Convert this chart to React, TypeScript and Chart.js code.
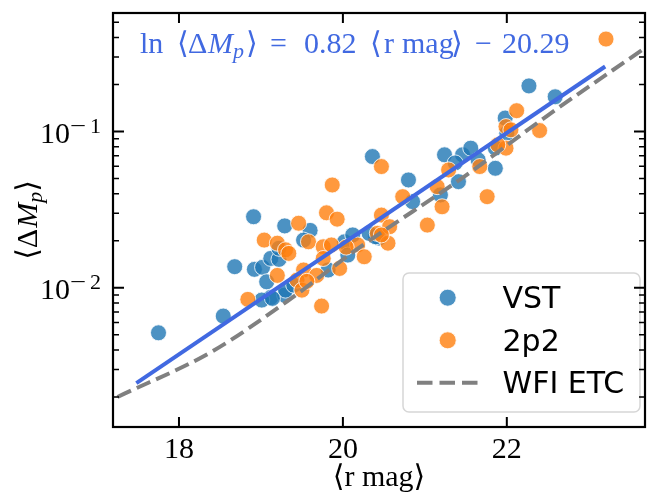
import React, { useEffect, useRef } from 'react';
import { Chart, registerables } from 'chart.js';

Chart.register(...registerables);

// ---- data ----
const VST_R = [17.75, 18.54, 18.68, 18.92, 19.02, 19.12, 19.22, 19.07, 19.12, 19.01, 19.29, 18.91, 19.29, 19.60, 19.52, 19.22, 20.02, 20.12, 20.06, 19.82, 19.30, 20.44, 19.40, 19.14, 20.36, 20.80, 20.85, 21.19, 21.24, 21.46, 21.56, 21.65, 21.41, 21.86, 21.86, 21.98, 22.00, 22.27, 22.59, 20.40, 20.32, 21.37];
const VST_DM = [0.00515, 0.00659, 0.01365, 0.01312, 0.01352, 0.01542, 0.0152, 0.01092, 0.00867, 0.00834, 0.00897, 0.0285, 0.0249, 0.0233, 0.0202, 0.0179, 0.0197, 0.0218, 0.0162, 0.0130, 0.00966, 0.0208, 0.0104, 0.00855, 0.0692, 0.0490, 0.0356, 0.0393, 0.0710, 0.0710, 0.0783, 0.0659, 0.0478, 0.0582, 0.0783, 0.122, 0.0977, 0.196, 0.167, 0.0212, 0.0223, 0.0630];

const P2_R = [18.84, 19.04, 19.20, 19.30, 19.20, 19.46, 19.34, 19.58, 19.76, 19.86, 20.18, 20.26, 19.96, 19.52, 19.68, 19.44, 19.50, 19.74, 20.42, 19.87, 19.80, 19.93, 20.47, 20.73, 21.15, 21.21, 20.47, 20.57, 21.03, 20.55, 21.29, 21.67, 21.76, 22.12, 21.99, 22.05, 22.40, 21.99, 21.89, 23.21, 20.04, 19.56, 19.76, 20.47];
const P2_DM = [0.00843, 0.0202, 0.0193, 0.0175, 0.0120, 0.0259, 0.0166, 0.0197, 0.0183, 0.0188, 0.0188, 0.0158, 0.0133, 0.0130, 0.0120, 0.0112, 0.00966, 0.00764, 0.0223, 0.0455, 0.0302, 0.0275, 0.0597, 0.0383, 0.0444, 0.0330, 0.0292, 0.0246, 0.0252, 0.0193, 0.0568, 0.0597, 0.0383, 0.136, 0.1076, 0.1026, 0.1015, 0.0783, 0.0822, 0.391, 0.0182, 0.0110, 0.0154, 0.0218];

const FIT_R = [17.48, 23.2];
const FIT_DM = [0.00245, 0.261];

const ETC_R = [17.25, 18.4, 19.32, 20.16, 21.48, 22.48, 23.69];
const ETC_DM = [0.0020, 0.0039, 0.0082, 0.01746, 0.0515, 0.1248, 0.344];

const X_MIN = 17.195;
const X_MAX = 23.686;
const Y_MIN = 0.001285;
const Y_MAX = 0.574;

const X_TICKS = [18, 20, 22];
const Y_MAJOR = [0.01, 0.1];
const Y_MAJOR_EXP = ['2', '1'];
const Y_MINOR = [0.002, 0.003, 0.004, 0.005, 0.006, 0.007, 0.008, 0.009, 0.02, 0.03, 0.04, 0.05, 0.06, 0.07, 0.08, 0.09, 0.2, 0.3, 0.4, 0.5];

const LEGEND_LABELS = ['VST', '2p2', 'WFI ETC'];
const X_TITLE = '\u27E8r mag\u27E9';

const BLUE = 'rgba(31,119,180,0.8)';
const ORANGE = 'rgba(255,127,14,0.8)';
const EDGE = 'rgba(255,255,255,0.8)';
const FIT_COLOR = '#4169E1';
const ETC_COLOR = '#808080';

const SERIF = "'Liberation Serif', 'DejaVu Serif', 'DejaVu Sans', serif";
const SANS = "'DejaVu Sans', sans-serif";

// equation pieces with their left positions (math-style spacing)
type Piece = { text: string; x: number; font: string; dy?: number };
const F30 = `30px ${SERIF}`;
const I30 = `italic 30px ${SERIF}`;
const I22 = `italic 22px ${SERIF}`;
const EQUATION: Piece[] = [
  { text: 'ln', x: 140, font: F30 },
  { text: '\u27E8', x: 177, font: F30 },
  { text: '\u0394', x: 188, font: F30 },
  { text: 'M', x: 208, font: I30 },
  { text: 'p', x: 233, font: I22, dy: 5 },
  { text: '\u27E9', x: 246, font: F30 },
  { text: '=', x: 270, font: F30 },
  { text: '0.82', x: 304, font: F30 },
  { text: '\u27E8', x: 370, font: F30 },
  { text: 'r', x: 384, font: F30 },
  { text: 'mag', x: 402, font: F30 },
  { text: '\u27E9', x: 451, font: F30 },
  { text: '\u2212', x: 475, font: F30 },
  { text: '20.29', x: 502, font: F30 },
];

const decorPlugin = {
  id: 'decor',
  afterDatasetsDraw(chart: any) {
    const ctx: CanvasRenderingContext2D = chart.ctx;
    const xs = chart.scales.x;
    const ys = chart.scales.y;
    const { left, right, top, bottom } = chart.chartArea;
    ctx.save();
    ctx.textBaseline = 'alphabetic';
    ctx.textAlign = 'left';

    // equation
    ctx.fillStyle = FIT_COLOR;
    EQUATION.forEach((p) => {
      ctx.font = p.font;
      ctx.fillText(p.text, p.x, 53 + (p.dy || 0));
    });

    // legend
    const lx = 403, ly = 273, lw = 237, lh = 139, rad = 6;
    ctx.beginPath();
    ctx.moveTo(lx + rad, ly);
    ctx.arcTo(lx + lw, ly, lx + lw, ly + lh, rad);
    ctx.arcTo(lx + lw, ly + lh, lx, ly + lh, rad);
    ctx.arcTo(lx, ly + lh, lx, ly, rad);
    ctx.arcTo(lx, ly, lx + lw, ly, rad);
    ctx.closePath();
    ctx.fillStyle = 'rgba(255,255,255,0.8)';
    ctx.fill();
    ctx.strokeStyle = 'rgba(204,204,204,0.8)';
    ctx.lineWidth = 1.5;
    ctx.stroke();

    const rows = [297.7, 340.3, 382.7];
    [BLUE, ORANGE].forEach((c, i) => {
      ctx.beginPath();
      ctx.arc(447.7, rows[i], 8.5, 0, Math.PI * 2);
      ctx.fillStyle = c;
      ctx.fill();
      ctx.strokeStyle = EDGE;
      ctx.lineWidth = 1;
      ctx.stroke();
    });
    ctx.beginPath();
    ctx.setLineDash([15.5, 7]);
    ctx.moveTo(417, rows[2]);
    ctx.lineTo(478.5, rows[2]);
    ctx.strokeStyle = ETC_COLOR;
    ctx.lineWidth = 4;
    ctx.stroke();
    ctx.setLineDash([]);

    ctx.fillStyle = '#000';
    ctx.font = `30px ${SANS}`;
    LEGEND_LABELS.forEach((t, i) => ctx.fillText(t, 502.5, rows[i] + 10.6));

    // frame
    ctx.strokeStyle = '#000';
    ctx.lineWidth = 2.2;
    ctx.strokeRect(left, top, right - left, bottom - top);

    // x ticks (inward, top & bottom)
    ctx.lineWidth = 2;
    X_TICKS.forEach((v) => {
      const px = xs.getPixelForValue(v);
      ctx.beginPath();
      ctx.moveTo(px, bottom);
      ctx.lineTo(px, bottom - 10);
      ctx.moveTo(px, top);
      ctx.lineTo(px, top + 10);
      ctx.stroke();
    });
    // y ticks
    Y_MAJOR.forEach((v) => {
      const py = ys.getPixelForValue(v);
      ctx.lineWidth = 2;
      ctx.beginPath();
      ctx.moveTo(left, py);
      ctx.lineTo(left + 11, py);
      ctx.moveTo(right, py);
      ctx.lineTo(right - 11, py);
      ctx.stroke();
    });
    Y_MINOR.forEach((v) => {
      const py = ys.getPixelForValue(v);
      ctx.lineWidth = 1.5;
      ctx.beginPath();
      ctx.moveTo(left, py);
      ctx.lineTo(left + 6, py);
      ctx.moveTo(right, py);
      ctx.lineTo(right - 6, py);
      ctx.stroke();
    });

    // y tick labels: 10^{-n}
    ctx.fillStyle = '#000';
    Y_MAJOR.forEach((v, i) => {
      const py = ys.getPixelForValue(v);
      const base = py + 11;
      ctx.font = `30px ${SERIF}`;
      ctx.fillText('10', 40, base);
      ctx.font = `22px ${SERIF}`;
      ctx.save();
      ctx.translate(70, base - 10);
      ctx.scale(1.3, 1);
      ctx.fillText('\u2212', 0, 0);
      ctx.restore();
      ctx.fillText(Y_MAJOR_EXP[i], 90, base - 10);
    });

    // y title
    ctx.save();
    ctx.translate(37, (top + bottom) / 2);
    ctx.rotate(-Math.PI / 2);
    const yRuns: Piece[] = [
      { text: '\u27E8', x: 0, font: F30 },
      { text: '\u0394', x: 0, font: F30 },
      { text: 'M', x: 0, font: I30 },
      { text: 'p', x: 0, font: I22, dy: 5 },
      { text: '\u27E9', x: 0, font: F30 },
    ];
    let total = 0;
    const widths = yRuns.map((r) => {
      ctx.font = r.font;
      const w = ctx.measureText(r.text).width + (r.text === '\u0394' ? 1 : 0);
      total += w;
      return w;
    });
    let cx = -total / 2;
    yRuns.forEach((r, i) => {
      ctx.font = r.font;
      ctx.fillText(r.text, cx, r.dy || 0);
      cx += widths[i];
    });
    ctx.restore();

    ctx.restore();
  },
};

function toPts(xs: number[], ys: number[]) {
  return xs.map((x, i) => ({ x, y: ys[i] }));
}

export default function App() {
  const ref = useRef<HTMLCanvasElement>(null);
  useEffect(() => {
    if (!ref.current) return;
    const chart = new Chart(ref.current, {
      type: 'scatter',
      data: {
        datasets: [
          {
            type: 'line',
            label: 'fit',
            data: toPts(FIT_R, FIT_DM),
            borderColor: FIT_COLOR,
            borderWidth: 4,
            pointRadius: 0,
            showLine: true,
            order: 0,
          } as any,
          {
            type: 'line',
            label: 'WFI ETC',
            data: toPts(ETC_R, ETC_DM),
            borderColor: ETC_COLOR,
            borderWidth: 4,
            borderDash: [14.8, 6.4],
            pointRadius: 0,
            showLine: true,
            cubicInterpolationMode: 'monotone',
            order: 1,
          } as any,
          {
            label: '2p2',
            data: toPts(P2_R, P2_DM),
            backgroundColor: ORANGE,
            borderColor: EDGE,
            borderWidth: 1,
            pointRadius: 8,
            order: 2,
          },
          {
            label: 'VST',
            data: toPts(VST_R, VST_DM),
            backgroundColor: BLUE,
            borderColor: EDGE,
            borderWidth: 1,
            pointRadius: 8,
            order: 3,
          },
        ],
      },
      options: {
        animation: false,
        responsive: false,
        devicePixelRatio: 1,
        layout: { padding: { top: 13, right: 1, left: 0, bottom: 0 } },
        plugins: { legend: { display: false }, tooltip: { enabled: false } },
        scales: {
          x: {
            type: 'linear',
            min: X_MIN,
            max: X_MAX,
            grid: { display: false, drawTicks: false },
            border: { display: false },
            afterBuildTicks: (s: any) => { s.ticks = X_TICKS.map((v) => ({ value: v })); },
            afterFit: (s: any) => { s.height = 72; },
            ticks: {
              color: '#000',
              padding: 5,
              maxRotation: 0,
              autoSkip: false,
              font: { family: SERIF, size: 30 },
              callback: (v: any) => String(v),
            },
            title: {
              display: true,
              text: X_TITLE,
              color: '#000',
              font: { family: SERIF, size: 30 },
              padding: { top: 0, bottom: 3 },
            },
          },
          y: {
            type: 'logarithmic',
            min: Y_MIN,
            max: Y_MAX,
            grid: { display: false, drawTicks: false },
            border: { display: false },
            ticks: { display: false },
            afterFit: (s: any) => { s.width = 113; },
          },
        },
      },
      plugins: [decorPlugin],
    });
    return () => chart.destroy();
  }, []);
  return (
    <canvas
      ref={ref}
      width={654}
      height={499}
      style={{ position: 'absolute', left: 0, top: 0, width: 654, height: 499 }}
    />
  );
}
